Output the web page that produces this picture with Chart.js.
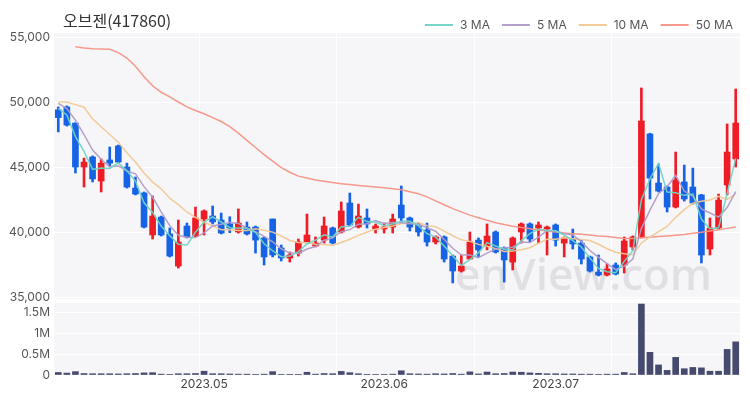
<!DOCTYPE html>
<html>
<head>
<meta charset="utf-8">
<script src="https://cdn.jsdelivr.net/npm/chart.js@4.4.0/dist/chart.umd.min.js"></script>
<style>
html,body{margin:0;padding:0;background:#ffffff;}
#wrap{width:750px;height:400px;}
</style>
</head>
<body>
<div id="wrap"><canvas id="c" width="750" height="400"></canvas></div>
<script>
const chartTitle = '오브젠(417860)';

const categories = [
'2023-04-05','2023-04-06','2023-04-07','2023-04-10','2023-04-11','2023-04-12','2023-04-13','2023-04-14','2023-04-17','2023-04-18',
'2023-04-19','2023-04-20','2023-04-21','2023-04-24','2023-04-25','2023-04-26','2023-04-27','2023-04-28','2023-05-02','2023-05-03',
'2023-05-04','2023-05-08','2023-05-09','2023-05-10','2023-05-11','2023-05-12','2023-05-15','2023-05-16','2023-05-17','2023-05-18',
'2023-05-19','2023-05-22','2023-05-23','2023-05-24','2023-05-25','2023-05-26','2023-05-30','2023-05-31','2023-06-01','2023-06-02',
'2023-06-05','2023-06-07','2023-06-08','2023-06-09','2023-06-12','2023-06-13','2023-06-14','2023-06-15','2023-06-16','2023-06-19',
'2023-06-20','2023-06-21','2023-06-22','2023-06-23','2023-06-26','2023-06-27','2023-06-28','2023-06-29','2023-06-30','2023-07-03',
'2023-07-04','2023-07-05','2023-07-06','2023-07-07','2023-07-10','2023-07-11','2023-07-12','2023-07-13','2023-07-14','2023-07-17',
'2023-07-18','2023-07-19','2023-07-20','2023-07-21','2023-07-24','2023-07-25','2023-07-26','2023-07-27','2023-07-28','2023-07-31'];

const opens = [
49400,49620,48380,45000,45770,43920,45540,46620,45000,43380,
43000,39770,41150,39850,37380,40460,39690,41000,41230,40920,
40620,40000,40380,40380,39540,41000,38770,38000,38380,39230,
38920,39380,40310,40000,42230,40380,41080,40230,40230,40380,
42080,41080,40540,40150,39230,39620,38150,37000,37920,39380,
38920,40000,38770,37690,40000,40620,40310,40230,40540,39150,
39460,39150,38080,36920,36690,37460,37460,38850,39620,47540,
43770,43460,41920,43850,43460,42850,38690,40310,43620,45620];

const highs = [
49620,49700,48400,45690,45850,45620,46540,46690,45300,44230,
43080,42770,41230,40310,40920,40690,41920,41700,42000,41460,
41180,41770,40770,40460,39620,41000,39000,38460,39460,41380,
39620,41150,40380,42310,43000,42150,41770,40620,40690,41380,
43540,41150,40690,40690,39700,39700,38230,38230,40000,39540,
40620,40080,38850,39620,40700,40700,40770,40460,40620,39620,
40230,39380,38150,38230,37540,37620,39620,39700,51080,47600,
45230,43540,46150,45150,44920,42900,41080,42920,48310,51000];

const lows = [
47700,48150,44540,43460,43850,43080,45080,45300,43380,42850,
40310,39460,39690,38080,37230,39540,39620,39770,40620,39850,
39950,39920,39770,38380,37460,38080,37770,37690,38150,39150,
38850,39150,39080,39920,40460,40310,40310,39920,39920,39920,
40690,40080,39690,38920,39080,37690,36080,36920,37920,38080,
38620,38380,36150,37080,39150,39230,39150,38230,38920,38080,
38690,37540,36920,36620,36620,36700,36850,38620,39540,42540,
43080,41540,41850,42380,42150,37620,38230,40230,42850,45000];

const closes = [
48800,48230,45000,45380,44080,45300,45300,45380,43460,42920,
40380,41230,39770,38150,39230,39620,41080,41620,40770,39920,
40310,40690,39850,39380,38080,38230,38000,38230,39230,39770,
39150,40460,39150,41620,40540,41230,40620,40460,40380,41000,
41080,40380,40000,39230,39620,37920,37000,37380,39230,38620,
39690,38460,37850,39540,40620,39460,40540,40380,39380,39540,
39080,37920,37000,36690,37150,36770,39310,39620,48540,44150,
43150,41920,44000,42540,42230,38230,40310,42460,46150,48380];

const ma3 = [
49500,49000,47340,46200,44820,44920,44890,45330,44710,43920,
42250,41510,40460,39720,39050,39000,39980,40770,41160,40770,
40330,40310,40280,39970,39100,38560,38100,38150,38490,39080,
39380,39790,39590,40410,40440,41130,40800,40770,40490,40610,
40820,40820,40490,39870,39620,38920,38180,37430,37870,38410,
39180,38920,38670,38620,39340,39870,40210,40130,40100,39770,
39330,38850,38000,37200,36950,36870,37740,38570,42490,44100,
45280,43070,43020,42820,42920,41000,40260,40330,42970,45660];

const ma5 = [
49900,49500,48600,47500,46300,45600,45010,45090,44700,44470,
43490,42670,41550,40490,39750,39600,39570,39940,40460,40600,
40740,40660,40310,40030,39660,39250,38710,38380,38350,38690,
38880,39370,39550,40030,40180,40600,40630,40890,40650,40740,
40710,40660,40570,40340,40060,39430,38750,38230,38230,38030,
38380,38680,38770,38830,39230,39190,39600,40110,40080,39860,
39780,39260,38580,38050,37570,37110,37380,37910,40280,41680,
42950,43480,44350,43150,42770,41780,41460,41150,41880,43110];

const ma10 = [
50000,50000,49800,49600,48700,48100,47500,46900,46100,45390,
44540,43840,43320,42600,42110,41540,41120,40750,40480,40180,
40170,40120,40120,40250,40130,39990,39690,39350,39190,39180,
39060,39040,38970,39190,39440,39740,40000,40220,40340,40460,
40650,40650,40730,40490,40400,40070,39710,39400,39280,39050,
38910,38720,38500,38530,38630,38790,39140,39440,39450,39550,
39490,39430,39350,39060,38710,38450,38320,38250,39160,39620,
40030,40430,41130,41720,42220,42370,42470,42750,42510,42940];

const ma50 = [
null,null,54250,54150,54100,54080,54050,53800,53380,52750,
51950,51250,50750,50400,50000,49620,49350,49100,48800,48500,
48100,47600,47050,46500,45950,45450,44950,44600,44300,44150,
44000,43900,43800,43720,43650,43580,43520,43460,43400,43330,
43250,43100,42950,42700,42400,42100,41800,41550,41300,41100,
40900,40720,40580,40450,40350,40250,40150,40080,40000,39930,
39870,39820,39770,39700,39650,39580,39500,39500,39550,39600,
39650,39700,39750,39800,39900,39980,40080,40180,40280,40380];

const volumes = [
60000,45000,80000,35000,30000,30000,30000,25000,30000,35000,
50000,55000,20000,15000,30000,30000,35000,90000,30000,30000,
25000,20000,20000,15000,20000,80000,10000,15000,15000,65000,
20000,35000,30000,85000,55000,30000,15000,10000,15000,20000,
100000,30000,25000,20000,30000,25000,35000,20000,75000,25000,
70000,30000,35000,70000,65000,50000,40000,30000,30000,25000,
25000,20000,20000,15000,20000,20000,60000,30000,1690000,540000,
240000,110000,420000,150000,180000,170000,90000,90000,610000,790000];

const priceTicks = [35000, 40000, 45000, 50000, 55000];
const volumeTicks = [0, 500000, 1000000, 1500000];
const monthTickIndex = [17, 38, 58];
const monthTickLabels = ['2023.05', '2023.06', '2023.07'];
const verticalGridIndex = [17, 33, 49, 65];
const maLabels = ['3 MA', '5 MA', '10 MA', '50 MA'];

const UP = '#ee1c25';
const DOWN = '#1763e6';
const maColors = ['rgba(112,212,196,0.95)', 'rgba(176,156,200,0.95)', 'rgba(242,200,146,0.95)', 'rgba(246,146,134,0.95)'];
const candleColors = opens.map((o, i) => closes[i] >= o ? UP : DOWN);

const FONT = 'Inter, "Noto Sans", sans-serif';

const panelBg = {
  id: 'panelBg',
  beforeDraw(chart) {
    const {ctx, chartArea: a, scales} = chart;
    ctx.save();
    ctx.fillStyle = '#f6f6f8';
    const y = scales.y, v = scales.yv;
    ctx.fillRect(a.left, y.top, a.right - a.left, y.bottom - y.top - 1);
    ctx.fillRect(a.left, v.top + 3, a.right - a.left, v.bottom - v.top - 3);
    ctx.restore();
  },
  beforeDatasetsDraw(chart) {
    const {ctx} = chart;
    ctx.save();
    const txt = 'enView.com';
    ctx.font = '600 50px "Open Sans", sans-serif';
    const w = ctx.measureText(txt).width;
    const size = 50 * 257 / w;
    ctx.font = '600 ' + size.toFixed(1) + 'px "Open Sans", sans-serif';
    ctx.fillStyle = 'rgba(190,190,194,0.38)';
    ctx.textBaseline = 'alphabetic';
    ctx.fillText(txt, 455, 290);
    ctx.restore();
  },
  afterDraw(chart) {
    const {ctx} = chart;
    ctx.save();
    ctx.font = '16px "Noto Sans CJK KR", sans-serif';
    ctx.fillStyle = '#333';
    ctx.textBaseline = 'middle';
    ctx.textAlign = 'left';
    ctx.fillText(chartTitle, 63, 21);
    ctx.font = '12px ' + FONT;
    let x = 733;
    const y = 25;
    for (let i = maLabels.length - 1; i >= 0; i--) {
      const tw = ctx.measureText(maLabels[i]).width;
      ctx.fillStyle = '#555';
      ctx.textAlign = 'left';
      ctx.fillText(maLabels[i], x - tw, y);
      x -= tw + 7;
      ctx.strokeStyle = maColors[i];
      ctx.lineWidth = 2;
      ctx.beginPath();
      ctx.moveTo(x - 28, y);
      ctx.lineTo(x, y);
      ctx.stroke();
      x -= 28 + 12;
    }
    ctx.restore();
  }
};

const maSets = [ma3, ma5, ma10, ma50].map((d, i) => ({
  type: 'line', label: maLabels[i], data: d, yAxisID: 'y',
  borderColor: maColors[i], borderWidth: 1.5, pointRadius: 0, tension: 0,
  fill: false, order: 0, spanGaps: false
}));

new Chart(document.getElementById('c'), {
  type: 'bar',
  data: {
    labels: categories,
    datasets: [
      ...maSets,
      { type: 'bar', label: 'body', data: opens.map((o, i) => [o, closes[i]]), yAxisID: 'y',
        backgroundColor: candleColors, barThickness: 6, grouped: false, order: 1, borderWidth: 0 },
      { type: 'bar', label: 'wick', data: lows.map((l, i) => [l, highs[i]]), yAxisID: 'y',
        backgroundColor: candleColors, barThickness: 2, grouped: false, order: 2, borderWidth: 0 },
      { type: 'bar', label: 'volume', data: volumes, yAxisID: 'yv',
        backgroundColor: '#464a6e', barThickness: 6, grouped: false, order: 3, borderWidth: 0 }
    ]
  },
  options: {
    responsive: false,
    animation: false,
    devicePixelRatio: 1,
    layout: { padding: { top: 33, right: 10, left: 0, bottom: 0 } },
    plugins: { legend: { display: false }, tooltip: { enabled: false }, title: { display: false } },
    scales: {
      x: {
        type: 'category', offset: true,
        grid: { offset: true, drawTicks: false, lineWidth: 1,
          color: c => verticalGridIndex.includes(c.index) ? '#ffffff' : 'rgba(0,0,0,0)' },
        border: { display: false },
        ticks: { autoSkip: false, maxRotation: 0, minRotation: 0, padding: 2, color: '#444',
          font: { family: FONT, size: 12 },
          callback: (v, i) => { const k = monthTickIndex.indexOf(i); return k >= 0 ? monthTickLabels[k] : ''; } },
        afterFit: s => { s.height = 25; }
      },
      yv: {
        type: 'linear', position: 'left', stack: 'panels', stackWeight: 75,
        min: 0, max: 1786000,
        afterBuildTicks: s => { s.ticks = volumeTicks.map(v => ({ value: v })); },
        grid: { color: '#ffffff', lineWidth: 1, drawTicks: false },
        border: { display: false },
        ticks: { autoSkip: false, padding: 4, color: '#555', font: { family: FONT, size: 12 },
          callback: v => v === 0 ? '0' : (v / 1000000) + 'M' },
        afterFit: s => { s.width = 54; }
      },
      y: {
        type: 'linear', position: 'left', stack: 'panels', stackWeight: 267,
        min: 34770, max: 55308,
        afterBuildTicks: s => { s.ticks = priceTicks.map(v => ({ value: v })); },
        grid: { color: '#ffffff', lineWidth: 1, drawTicks: false },
        border: { display: false },
        ticks: { autoSkip: false, padding: 4, color: '#555', font: { family: FONT, size: 12 },
          callback: v => Number(v).toLocaleString('en-US') },
        afterFit: s => { s.width = 54; }
      }
    }
  },
  plugins: [panelBg]
});
</script>
</body>
</html>
